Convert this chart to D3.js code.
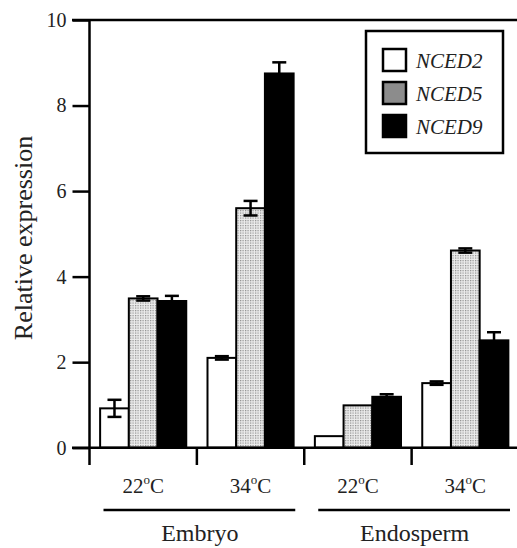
<!DOCTYPE html>
<html>
<head>
<meta charset="utf-8">
<style>
  body { margin: 0; background: white; }
</style>
</head>
<body>
<script src="https://d3js.org/d3.v7.min.js"></script>
<div id="chart"></div>
<script>
// data
var groups = ["E22", "E34", "N22", "N34"];
var tempLabels = ["22", "34", "22", "34"];
var tissues = ["Embryo", "Endosperm"];
var genes = ["NCED2", "NCED5", "NCED9"];
var nced2 = [0.92, 2.10, 0.27, 1.51];
var nced5 = [3.49, 5.60, 0.99, 4.61];
var nced9 = [3.43, 8.75, 1.19, 2.51];
var err2 = [0.20, 0.04, 0.00, 0.04];
var err5 = [0.05, 0.17, 0.00, 0.05];
var err9 = [0.12, 0.26, 0.06, 0.19];
var yTicks = [0, 2, 4, 6, 8, 10];

var width = 517, height = 548;
var serif = "'Liberation Serif', 'Times New Roman', serif";

var svg = d3.select("#chart").append("svg")
    .attr("width", width)
    .attr("height", height)
    .style("font-family", serif);

var defs = svg.append("defs");
var pat = defs.append("pattern")
    .attr("id", "dots")
    .attr("width", 2.5).attr("height", 2.5)
    .attr("patternUnits", "userSpaceOnUse");
pat.append("rect").attr("width", 2.5).attr("height", 2.5).attr("fill", "#ececec");
pat.append("rect").attr("width", 1.2).attr("height", 1.2).attr("fill", "#8a8a8a");

var y = d3.scaleLinear().domain([0, 10]).range([447.7, 20]);
var x0 = d3.scaleBand().domain(groups).range([89.5, 519]);
var x1 = d3.scaleBand().domain(genes).range([0, x0.bandwidth()])
    .paddingInner(0).paddingOuter(0.37);

var fills = { NCED2: "white", NCED5: "url(#dots)", NCED9: "black" };
var values = { NCED2: nced2, NCED5: nced5, NCED9: nced9 };
var errs = { NCED2: err2, NCED5: err5, NCED9: err9 };

var data = [];
groups.forEach(function(g, i) {
  genes.forEach(function(k) {
    data.push({ group: g, gene: k, value: values[k][i], err: errs[k][i] });
  });
});

function errorBar(sel, d) {
  var cx = x0(d.group) + x1(d.gene) + x1.bandwidth() / 2;
  var g = sel.append("g").attr("stroke", "black").attr("stroke-width", 2.5);
  g.append("line").attr("x1", cx).attr("x2", cx)
      .attr("y1", y(d.value - d.err)).attr("y2", y(d.value + d.err));
  [d.value - d.err, d.value + d.err].forEach(function(v) {
    g.append("line").attr("x1", cx - 7).attr("x2", cx + 7)
        .attr("y1", y(v)).attr("y2", y(v));
  });
}

// top frame line
svg.append("line")
    .attr("x1", 72).attr("x2", width)
    .attr("y1", y(10)).attr("y2", y(10))
    .attr("stroke", "black").attr("stroke-width", 2.5);

// error bars for black bars (under the bar)
var eb = svg.append("g");
data.filter(function(d) { return d.err > 0 && d.gene == "NCED9"; })
  .forEach(function(d) { errorBar(eb, d); });

// bars
svg.append("g").selectAll("rect")
  .data(data)
  .join("rect")
    .attr("x", function(d) { return x0(d.group) + x1(d.gene); })
    .attr("y", function(d) { return y(d.value); })
    .attr("width", x1.bandwidth())
    .attr("height", function(d) { return y(0) - y(d.value); })
    .attr("fill", function(d) { return fills[d.gene]; })
    .attr("stroke", "black")
    .attr("stroke-width", 2);

// error bars on white and dotted bars
var eb2 = svg.append("g");
data.filter(function(d) { return d.err > 0 && d.gene != "NCED9"; })
  .forEach(function(d) { errorBar(eb2, d); });

// Y axis
var yAxis = svg.append("g")
    .attr("transform", "translate(89.5,0)")
    .call(d3.axisLeft(y).tickValues(yTicks).tickSize(17).tickPadding(6));
yAxis.attr("font-family", null).attr("font-size", null);
yAxis.select(".domain").remove();
yAxis.selectAll(".tick line").attr("stroke-width", 2.5);
yAxis.selectAll(".tick text").style("font-size", "20px").attr("fill", "#222");
svg.append("line")
    .attr("x1", 89.5).attr("x2", 89.5)
    .attr("y1", y(10)).attr("y2", 465)
    .attr("stroke", "black").attr("stroke-width", 2.5);

// X axis
svg.append("line")
    .attr("x1", 72).attr("x2", width)
    .attr("y1", y(0)).attr("y2", y(0))
    .attr("stroke", "black").attr("stroke-width", 2.5);
svg.append("g").selectAll("line")
  .data(groups.slice(1))
  .join("line")
    .attr("x1", function(d) { return x0(d); })
    .attr("x2", function(d) { return x0(d); })
    .attr("y1", y(0)).attr("y2", 465)
    .attr("stroke", "black").attr("stroke-width", 2.5);

// temperature labels
var tl = svg.append("g").selectAll("text")
  .data(groups)
  .join("text")
    .attr("x", function(d) { return x0(d) + x0.bandwidth() / 2; })
    .attr("y", 493)
    .attr("text-anchor", "middle")
    .style("font-size", "21px")
    .attr("fill", "#222");
tl.append("tspan").text(function(d, i) { return tempLabels[i]; });
tl.append("tspan").attr("dy", -9).style("font-size", "13px").text("o");
tl.append("tspan").attr("dy", 9).text("C");

// tissue labels with lines
tissues.forEach(function(t, i) {
  var xa = x0(groups[i * 2]), xb = x0(groups[i * 2 + 1]) + x0.bandwidth();
  svg.append("line")
      .attr("x1", xa + 14).attr("x2", xb - 9)
      .attr("y1", 510).attr("y2", 510)
      .attr("stroke", "black").attr("stroke-width", 2.5);
  svg.append("text")
      .attr("x", (xa + xb) / 2 + 3)
      .attr("y", 541)
      .attr("text-anchor", "middle")
      .style("font-size", "24px")
      .attr("fill", "#222")
      .text(t);
});

// Y label
svg.append("text")
    .attr("transform", "translate(32,238) rotate(-90)")
    .attr("text-anchor", "middle")
    .style("font-size", "26px")
    .attr("fill", "#222")
    .text("Relative expression");

// legend
var legend = svg.append("g");
legend.append("rect")
    .attr("x", 366).attr("y", 31)
    .attr("width", 137).attr("height", 122)
    .attr("fill", "white").attr("stroke", "black").attr("stroke-width", 2.5);
var legendFills = { NCED2: "white", NCED5: "#8c8c8c", NCED9: "black" };
genes.forEach(function(k, i) {
  legend.append("rect")
      .attr("x", 383).attr("y", 49 + i * 33)
      .attr("width", 23).attr("height", 22)
      .attr("fill", legendFills[k]).attr("stroke", "black").attr("stroke-width", 2.5);
  legend.append("text")
      .attr("x", 416).attr("y", 68 + i * 33)
      .style("font-size", "21px")
      .style("font-style", "italic")
      .attr("fill", "#222")
      .text(k);
});
</script>
</body>
</html>
